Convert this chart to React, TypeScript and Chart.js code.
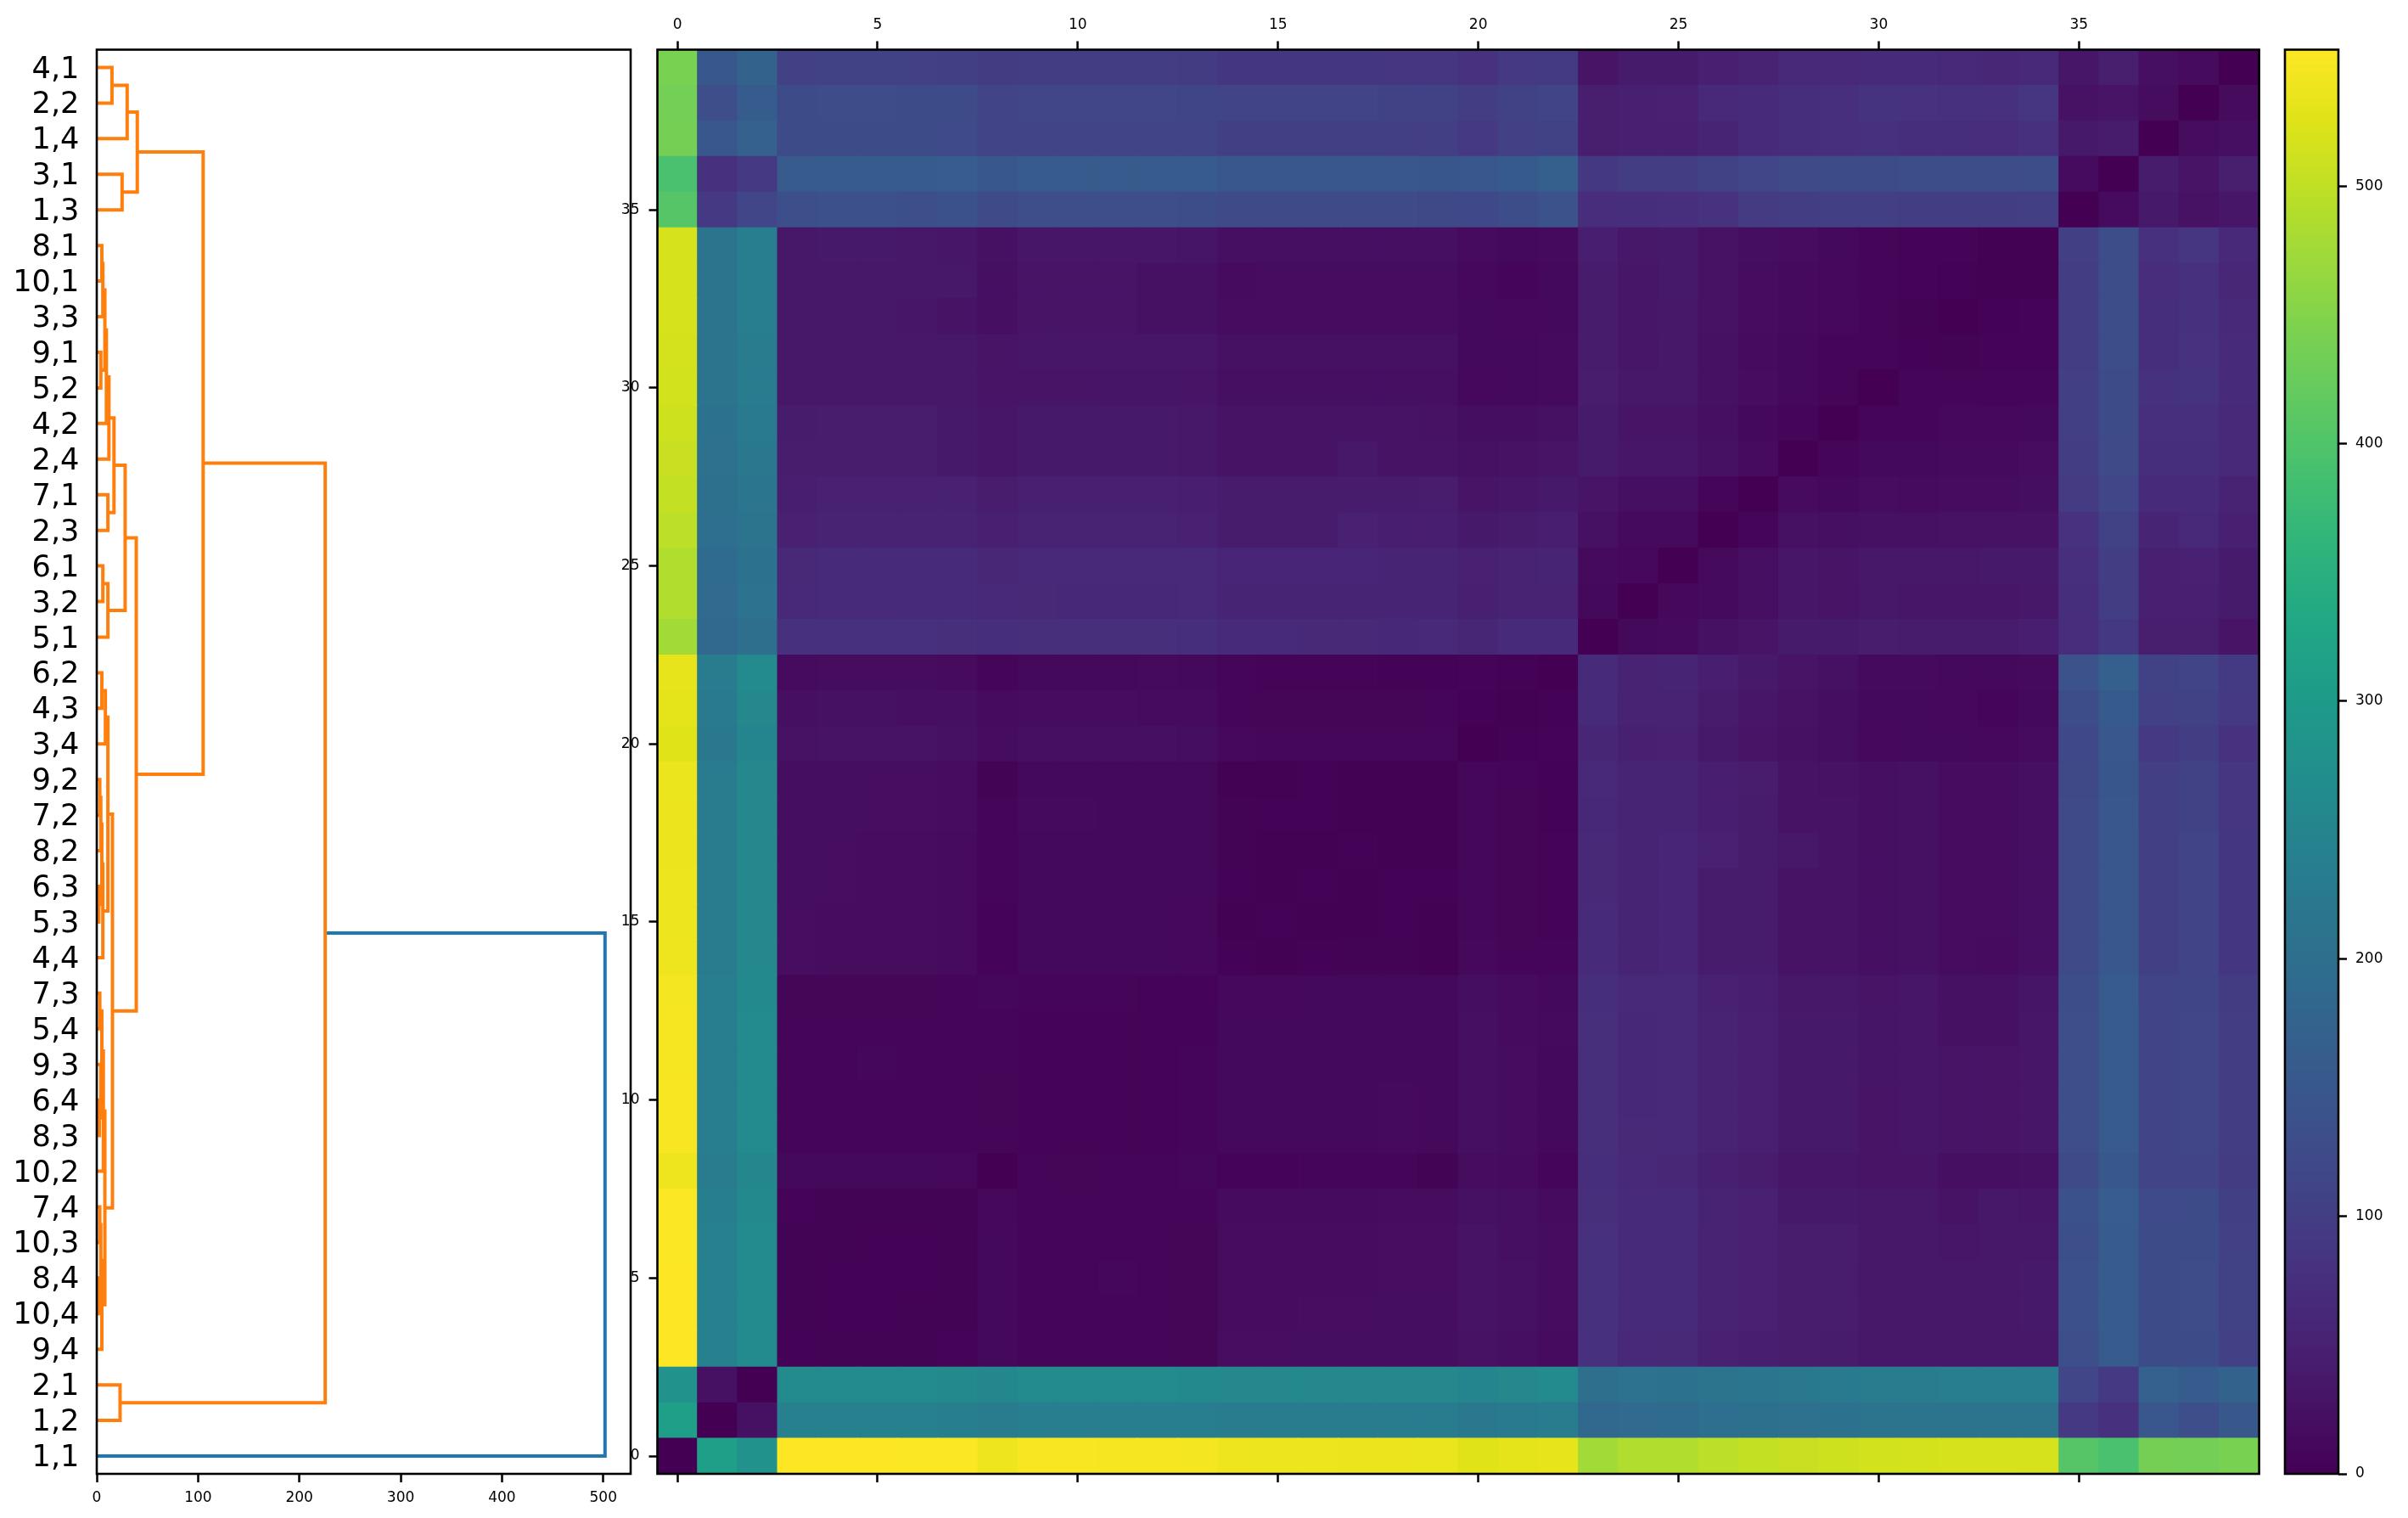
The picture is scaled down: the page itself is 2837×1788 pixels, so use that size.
import { useEffect, useRef } from 'react';
import { Chart, registerables } from 'chart.js';

Chart.register(...registerables);

const PAGE_W = 2837;
const PAGE_H = 1788;
const FONT = 'DejaVu Sans';

// leaf labels, bottom row first
const leafLabels = [
  '1,1', '1,2', '2,1', '9,4', '10,4', '8,4', '10,3', '7,4', '10,2', '8,3',
  '6,4', '9,3', '5,4', '7,3', '4,4', '5,3', '6,3', '8,2', '7,2', '9,2',
  '3,4', '4,3', '6,2', '5,1', '3,2', '6,1', '2,3', '7,1', '2,4', '4,2',
  '5,2', '9,1', '3,3', '10,1', '8,1', '1,3', '3,1', '1,4', '2,2', '4,1',
];
const leafRows = leafLabels.map((_, i) => i);

// [row a, height a, row b, height b, merge height]
const orangeLinks = [
  [39, 0, 38, 0, 15],
  [38.5, 15, 37, 0, 30],
  [36, 0, 35, 0, 25],
  [37.75, 30, 35.5, 25, 40],
  [34, 0, 33, 0, 5],
  [33.5, 5, 32, 0, 6],
  [31, 0, 30, 0, 4],
  [32.75, 6, 30.5, 4, 8],
  [31.625, 8, 29, 0, 9.5],
  [30.31, 9.5, 28, 0, 12],
  [27, 0, 26, 0, 11],
  [29.16, 12, 26.5, 11, 17],
  [25, 0, 24, 0, 6],
  [24.5, 6, 23, 0, 11],
  [27.83, 17, 23.75, 11, 28],
  [22, 0, 21, 0, 5],
  [21.5, 5, 20, 0, 8.5],
  [19, 0, 18, 0, 3],
  [18.5, 3, 17, 0, 4],
  [16, 0, 15, 0, 2],
  [17.75, 4, 15.5, 2, 5],
  [16.625, 5, 14, 0, 6],
  [20.75, 8.5, 15.31, 6, 11],
  [13, 0, 12, 0, 3],
  [10, 0, 9, 0, 2.5],
  [11, 0, 9.5, 2.5, 4],
  [12.5, 3, 10.25, 4, 5],
  [11.375, 5, 8, 0, 6.5],
  [7, 0, 6, 0, 3],
  [5, 0, 4, 0, 2],
  [6.5, 3, 4.5, 2, 4],
  [5.5, 4, 3, 0, 5],
  [9.69, 6.5, 4.25, 5, 8],
  [18.03, 11, 6.97, 8, 15.5],
  [25.79, 28, 12.5, 15.5, 39],
  [36.625, 40, 19.15, 39, 105],
  [2, 0, 1, 0, 23],
  [27.89, 105, 1.5, 23, 225.5],
];
const blueLinks = [[14.69, 225.5, 0, 0, 501.7]];

const heightTicks = [0, 100, 200, 300, 400, 500];
const cellTicks = [0, 5, 10, 15, 20, 25, 30, 35];
const colorTicks = [0, 100, 200, 300, 400, 500];
const colorMax = 553;

const viridis = [
  '#440154', '#471365', '#482475', '#463480', '#414487', '#3b528b', '#355f8d',
  '#2f6c8e', '#2a788e', '#25848e', '#21918c', '#1e9c89', '#22a884', '#2fb47c',
  '#44bf70', '#5ec962', '#7ad151', '#9bd93c', '#bddf26', '#dfe318', '#fde725',
];

// distances, lower triangle, row 0 is the bottom row of the picture
const distanceRows = [
  [0],
  [312, 0],
  [278, 25, 0],
  [553, 240, 262, 3],
  [553, 240, 262, 4, 3],
  [553, 240, 262, 4, 3, 3],
  [552, 240, 262, 4, 4, 3, 3],
  [551, 238, 260, 5, 4, 4, 4, 4],
  [540, 228, 256, 13, 13, 13, 13, 11, 0],
  [548, 234, 262, 6, 6, 6, 6, 6, 8, 5],
  [548, 233, 262, 6, 6, 6, 6, 6, 7, 5, 5],
  [547, 232, 262, 6, 6, 9, 6, 6, 8, 5, 5, 5],
  [547, 232, 261, 6, 6, 6, 6, 6, 8, 5, 5, 5, 5],
  [546, 232, 260, 7, 7, 7, 7, 8, 9, 6, 6, 6, 5, 5],
  [539, 231, 258, 19, 18, 18, 18, 16, 5, 12, 12, 12, 12, 11, 3],
  [538, 231, 258, 19, 18, 18, 18, 16, 5, 12, 12, 12, 12, 11, 2, 3],
  [538, 230, 258, 20, 19, 18, 18, 16, 6, 13, 13, 12, 12, 12, 3, 2, 3],
  [537, 230, 258, 20, 19, 18, 18, 16, 6, 13, 13, 13, 13, 13, 4, 2, 2, 3],
  [537, 230, 257, 20, 20, 19, 19, 17, 6, 14, 14, 13, 13, 13, 4, 3, 3, 2, 2],
  [536, 230, 257, 20, 20, 19, 19, 17, 4, 13, 13, 13, 13, 13, 2, 2, 3, 2, 1, 2],
  [525, 222, 250, 26, 28, 28, 27, 25, 18, 21, 21, 21, 21, 20, 10, 9, 9, 9, 9, 9, 0],
  [531, 226, 258, 22, 24, 24, 22, 21, 16, 17, 17, 17, 16, 16, 8, 7, 7, 7, 7, 6, 3, 1],
  [533, 228, 262, 16, 18, 18, 18, 15, 8, 13, 13, 13, 14, 13, 6, 5, 5, 5, 3, 3, 5, 3, 0],
  [476, 185, 200, 76, 77, 77, 76, 74, 72, 74, 74, 74, 74, 73, 65, 65, 64, 64, 63, 62, 58, 66, 68, 0],
  [488, 190, 207, 62, 68, 68, 68, 66, 62, 64, 63, 63, 63, 62, 56, 56, 56, 56, 55, 55, 48, 52, 54, 12, 0],
  [488, 192, 208, 64, 66, 66, 66, 68, 60, 62, 62, 62, 62, 62, 57, 57, 57, 57, 56, 56, 50, 54, 56, 14, 10, 0],
  [497, 198, 212, 50, 54, 54, 54, 54, 48, 52, 52, 52, 52, 50, 42, 42, 42, 50, 46, 46, 38, 42, 46, 24, 14, 14, 0],
  [503, 202, 216, 47, 50, 50, 50, 50, 44, 48, 48, 48, 48, 47, 42, 42, 42, 42, 42, 44, 30, 32, 38, 30, 22, 22, 8, 0],
  [507, 205, 222, 44, 44, 44, 44, 38, 32, 38, 38, 38, 38, 36, 28, 28, 28, 36, 28, 28, 24, 26, 30, 40, 32, 32, 24, 15, 0],
  [511, 208, 225, 42, 44, 44, 44, 37, 32, 38, 38, 38, 38, 36, 27, 27, 27, 27, 27, 26, 20, 20, 24, 40, 30, 30, 22, 12, 8, 0],
  [515, 209, 228, 36, 36, 34, 36, 36, 30, 30, 30, 31, 31, 30, 22, 22, 22, 22, 22, 22, 10, 12, 14, 44, 34, 36, 25, 18, 13, 8, 0],
  [516, 210, 230, 36, 36, 36, 36, 35, 30, 33, 33, 33, 33, 32, 25, 25, 25, 25, 25, 25, 13, 13, 14, 42, 32, 34, 24, 15, 12, 8, 6, 3],
  [518, 211, 232, 34, 34, 34, 32, 28, 22, 30, 30, 30, 25, 25, 18, 18, 18, 18, 18, 18, 12, 10, 12, 42, 32, 36, 26, 18, 14, 10, 8, 4, 0],
  [518, 211, 233, 34, 34, 34, 34, 34, 22, 30, 30, 30, 25, 25, 16, 17, 17, 17, 17, 18, 10, 8, 12, 42, 32, 38, 26, 18, 14, 10, 6, 5, 3, 2],
  [517, 212, 235, 36, 37, 37, 35, 32, 24, 32, 32, 32, 32, 31, 22, 22, 22, 22, 22, 22, 15, 13, 14, 46, 36, 38, 26, 20, 18, 12, 8, 5, 5, 2, 2],
  [405, 92, 115, 132, 135, 135, 133, 136, 122, 130, 130, 130, 130, 129, 122, 122, 122, 122, 122, 120, 118, 128, 138, 70, 72, 75, 80, 95, 100, 102, 102, 100, 100, 100, 102, 0],
  [392, 76, 92, 158, 160, 160, 160, 162, 152, 158, 158, 158, 158, 157, 148, 148, 148, 148, 148, 147, 148, 155, 165, 90, 100, 100, 108, 115, 122, 125, 125, 128, 128, 128, 128, 16, 0],
  [437, 148, 170, 124, 125, 125, 124, 123, 110, 112, 112, 112, 112, 110, 103, 103, 103, 103, 102, 102, 92, 105, 108, 45, 48, 48, 55, 65, 72, 75, 78, 72, 72, 70, 76, 38, 42, 0],
  [435, 130, 160, 125, 126, 126, 125, 124, 112, 115, 115, 115, 115, 113, 110, 110, 110, 110, 108, 108, 100, 108, 110, 45, 48, 50, 62, 68, 72, 75, 82, 80, 78, 76, 85, 26, 30, 18, 0],
  [441, 150, 175, 106, 108, 108, 106, 104, 96, 98, 98, 98, 98, 96, 86, 86, 86, 86, 85, 85, 80, 92, 94, 30, 40, 40, 48, 52, 62, 62, 65, 65, 62, 60, 62, 32, 45, 22, 15, 0],
];

const distanceAt = (row: number, col: number) =>
  row >= col ? distanceRows[row][col] : distanceRows[col][row];

const viridisColor = (value: number) => {
  const t = Math.min(1, Math.max(0, value / colorMax)) * (viridis.length - 1);
  const i = Math.min(Math.floor(t), viridis.length - 2);
  const a = parseInt(viridis[i].slice(1), 16);
  const b = parseInt(viridis[i + 1].slice(1), 16);
  const f = t - i;
  const mix = (shift: number) => {
    const ca = (a >> shift) & 255;
    const cb = (b >> shift) & 255;
    return Math.round(ca + (cb - ca) * f);
  };
  return `rgb(${mix(16)},${mix(8)},${mix(0)})`;
};

const frame = {
  id: 'frame',
  afterDraw(chart: Chart) {
    const { ctx, chartArea: a } = chart;
    ctx.save();
    ctx.strokeStyle = '#000';
    ctx.lineWidth = 2.6;
    ctx.strokeRect(a.left, a.top, a.right - a.left, a.bottom - a.top);
    ctx.restore();
  },
};

const tickGrid = {
  drawOnChartArea: false,
  tickLength: 10,
  tickWidth: 2.5,
  tickColor: '#000',
};
const tickFont = { family: FONT, size: 17 };
const fixedTicks = (values: number[]) => (scale: any) => {
  scale.ticks = values.map((value) => ({ value }));
};
const baseOptions = {
  responsive: false,
  animation: false as const,
  devicePixelRatio: 1,
  events: [],
  plugins: { legend: { display: false }, tooltip: { enabled: false } },
};

function linkDataset(link: number[], color: string) {
  const [rowA, heightA, rowB, heightB, merge] = link;
  return {
    data: [
      { x: heightA, y: rowA },
      { x: merge, y: rowA },
      { x: merge, y: rowB },
      { x: heightB, y: rowB },
    ],
    showLine: true,
    pointRadius: 0,
    borderColor: color,
    borderWidth: 4,
  };
}

// the leaf text sits a little under its row, so it gets its own shifted axis
const leafLabelShift = 0.07;

function makeDendrogram(canvas: HTMLCanvasElement) {
  return new Chart(canvas, {
    type: 'scatter',
    data: {
      datasets: [
        ...orangeLinks.map((l) => linkDataset(l, '#ff7f0e')),
        ...blueLinks.map((l) => linkDataset(l, '#1f77b4')),
      ],
    },
    plugins: [frame],
    options: {
      ...baseOptions,
      layout: { padding: { left: 14, top: 58.5, right: PAGE_W - 743, bottom: PAGE_H - 1736 - 40 } },
      scales: {
        x: {
          type: 'linear',
          min: 0,
          max: 527,
          afterBuildTicks: fixedTicks(heightTicks),
          afterFit: (s: any) => { s.height = 40; },
          grid: tickGrid,
          border: { display: false },
          ticks: { font: tickFont, color: '#000', padding: 8, maxRotation: 0 },
        },
        y: { type: 'linear', display: false, min: -0.5, max: 39.5 },
        yLabels: {
          type: 'linear',
          position: 'left',
          min: -0.5 + leafLabelShift,
          max: 39.5 + leafLabelShift,
          afterBuildTicks: fixedTicks(leafRows),
          afterFit: (s: any) => { s.width = 100; },
          grid: { display: false },
          border: { display: false },
          ticks: {
            font: { family: FONT, size: 35.2 },
            color: '#000',
            padding: 12.5,
            autoSkip: false,
            callback: (v: any) => leafLabels[v],
          },
        },
      },
    } as any,
  });
}

function makeHeatmap(canvas: HTMLCanvasElement) {
  const datasets = distanceRows.map((_, row) => ({
    data: distanceRows.map((__, col) => ({
      x: col,
      y: [row - 0.5, row + 0.5],
      v: distanceAt(row, col),
    })),
    backgroundColor: (c: any) => viridisColor(c.raw ? c.raw.v : 0),
    borderWidth: 0,
    inflateAmount: 0.5,
    barPercentage: 1,
    categoryPercentage: 1,
    grouped: false,
  }));
  const cellAxis = {
    type: 'linear',
    min: -0.5,
    max: 39.5,
    offset: false,
    afterBuildTicks: fixedTicks(cellTicks),
    border: { display: false },
  };
  return new Chart(canvas, {
    type: 'bar',
    data: { datasets },
    plugins: [frame],
    options: {
      ...baseOptions,
      layout: { padding: { left: 774.5 - 60, top: 58.5 - 50, right: PAGE_W - 2661.6, bottom: PAGE_H - 1736 - 14 } },
      scales: {
        x: {
          ...cellAxis,
          position: 'top',
          afterFit: (s: any) => { s.height = 50; },
          grid: { ...tickGrid, offset: false },
          ticks: { font: tickFont, color: '#000', padding: 9, maxRotation: 0 },
        },
        x2: {
          ...cellAxis,
          position: 'bottom',
          afterFit: (s: any) => { s.height = 14; },
          grid: { ...tickGrid, offset: false },
          ticks: { display: false },
        },
        y: {
          ...cellAxis,
          position: 'left',
          afterFit: (s: any) => { s.width = 60; },
          grid: tickGrid,
          ticks: { font: tickFont, color: '#000', padding: 11 },
        },
      },
    } as any,
  });
}

function makeColorbar(canvas: HTMLCanvasElement) {
  return new Chart(canvas, {
    type: 'bar',
    data: {
      labels: [''],
      datasets: [
        {
          data: [[0, colorMax]],
          backgroundColor: (c: any) => {
            const { ctx, chartArea } = c.chart;
            if (!chartArea) return viridis[0];
            const g = ctx.createLinearGradient(0, chartArea.bottom, 0, chartArea.top);
            viridis.forEach((color, i) => g.addColorStop(i / (viridis.length - 1), color));
            return g;
          },
          borderWidth: 0,
          barPercentage: 1,
          categoryPercentage: 1,
        },
      ],
    },
    plugins: [frame],
    options: {
      ...baseOptions,
      layout: { padding: { left: 2692, top: 58.5, right: PAGE_W - 2755 - 70, bottom: PAGE_H - 1736 } },
      scales: {
        x: { display: false },
        y: {
          type: 'linear',
          position: 'right',
          min: 0,
          max: colorMax,
          afterBuildTicks: fixedTicks(colorTicks),
          afterFit: (s: any) => { s.width = 70; },
          grid: tickGrid,
          border: { display: false },
          ticks: { font: tickFont, color: '#000', padding: 10 },
        },
      },
    } as any,
  });
}

const layerStyle = { position: 'absolute', left: 0, top: 0 } as const;

export default function App() {
  const dendroRef = useRef<HTMLCanvasElement>(null);
  const heatRef = useRef<HTMLCanvasElement>(null);
  const barRef = useRef<HTMLCanvasElement>(null);

  useEffect(() => {
    if (!dendroRef.current || !heatRef.current || !barRef.current) return;
    const charts = [
      makeDendrogram(dendroRef.current),
      makeHeatmap(heatRef.current),
      makeColorbar(barRef.current),
    ];
    return () => charts.forEach((c) => c.destroy());
  }, []);

  return (
    <div style={{ position: 'absolute', left: 0, top: 0, width: PAGE_W, height: PAGE_H, background: '#fff', overflow: 'hidden' }}>
      <canvas ref={dendroRef} width={PAGE_W} height={PAGE_H} style={layerStyle} />
      <canvas ref={heatRef} width={PAGE_W} height={PAGE_H} style={layerStyle} />
      <canvas ref={barRef} width={PAGE_W} height={PAGE_H} style={layerStyle} />
    </div>
  );
}
